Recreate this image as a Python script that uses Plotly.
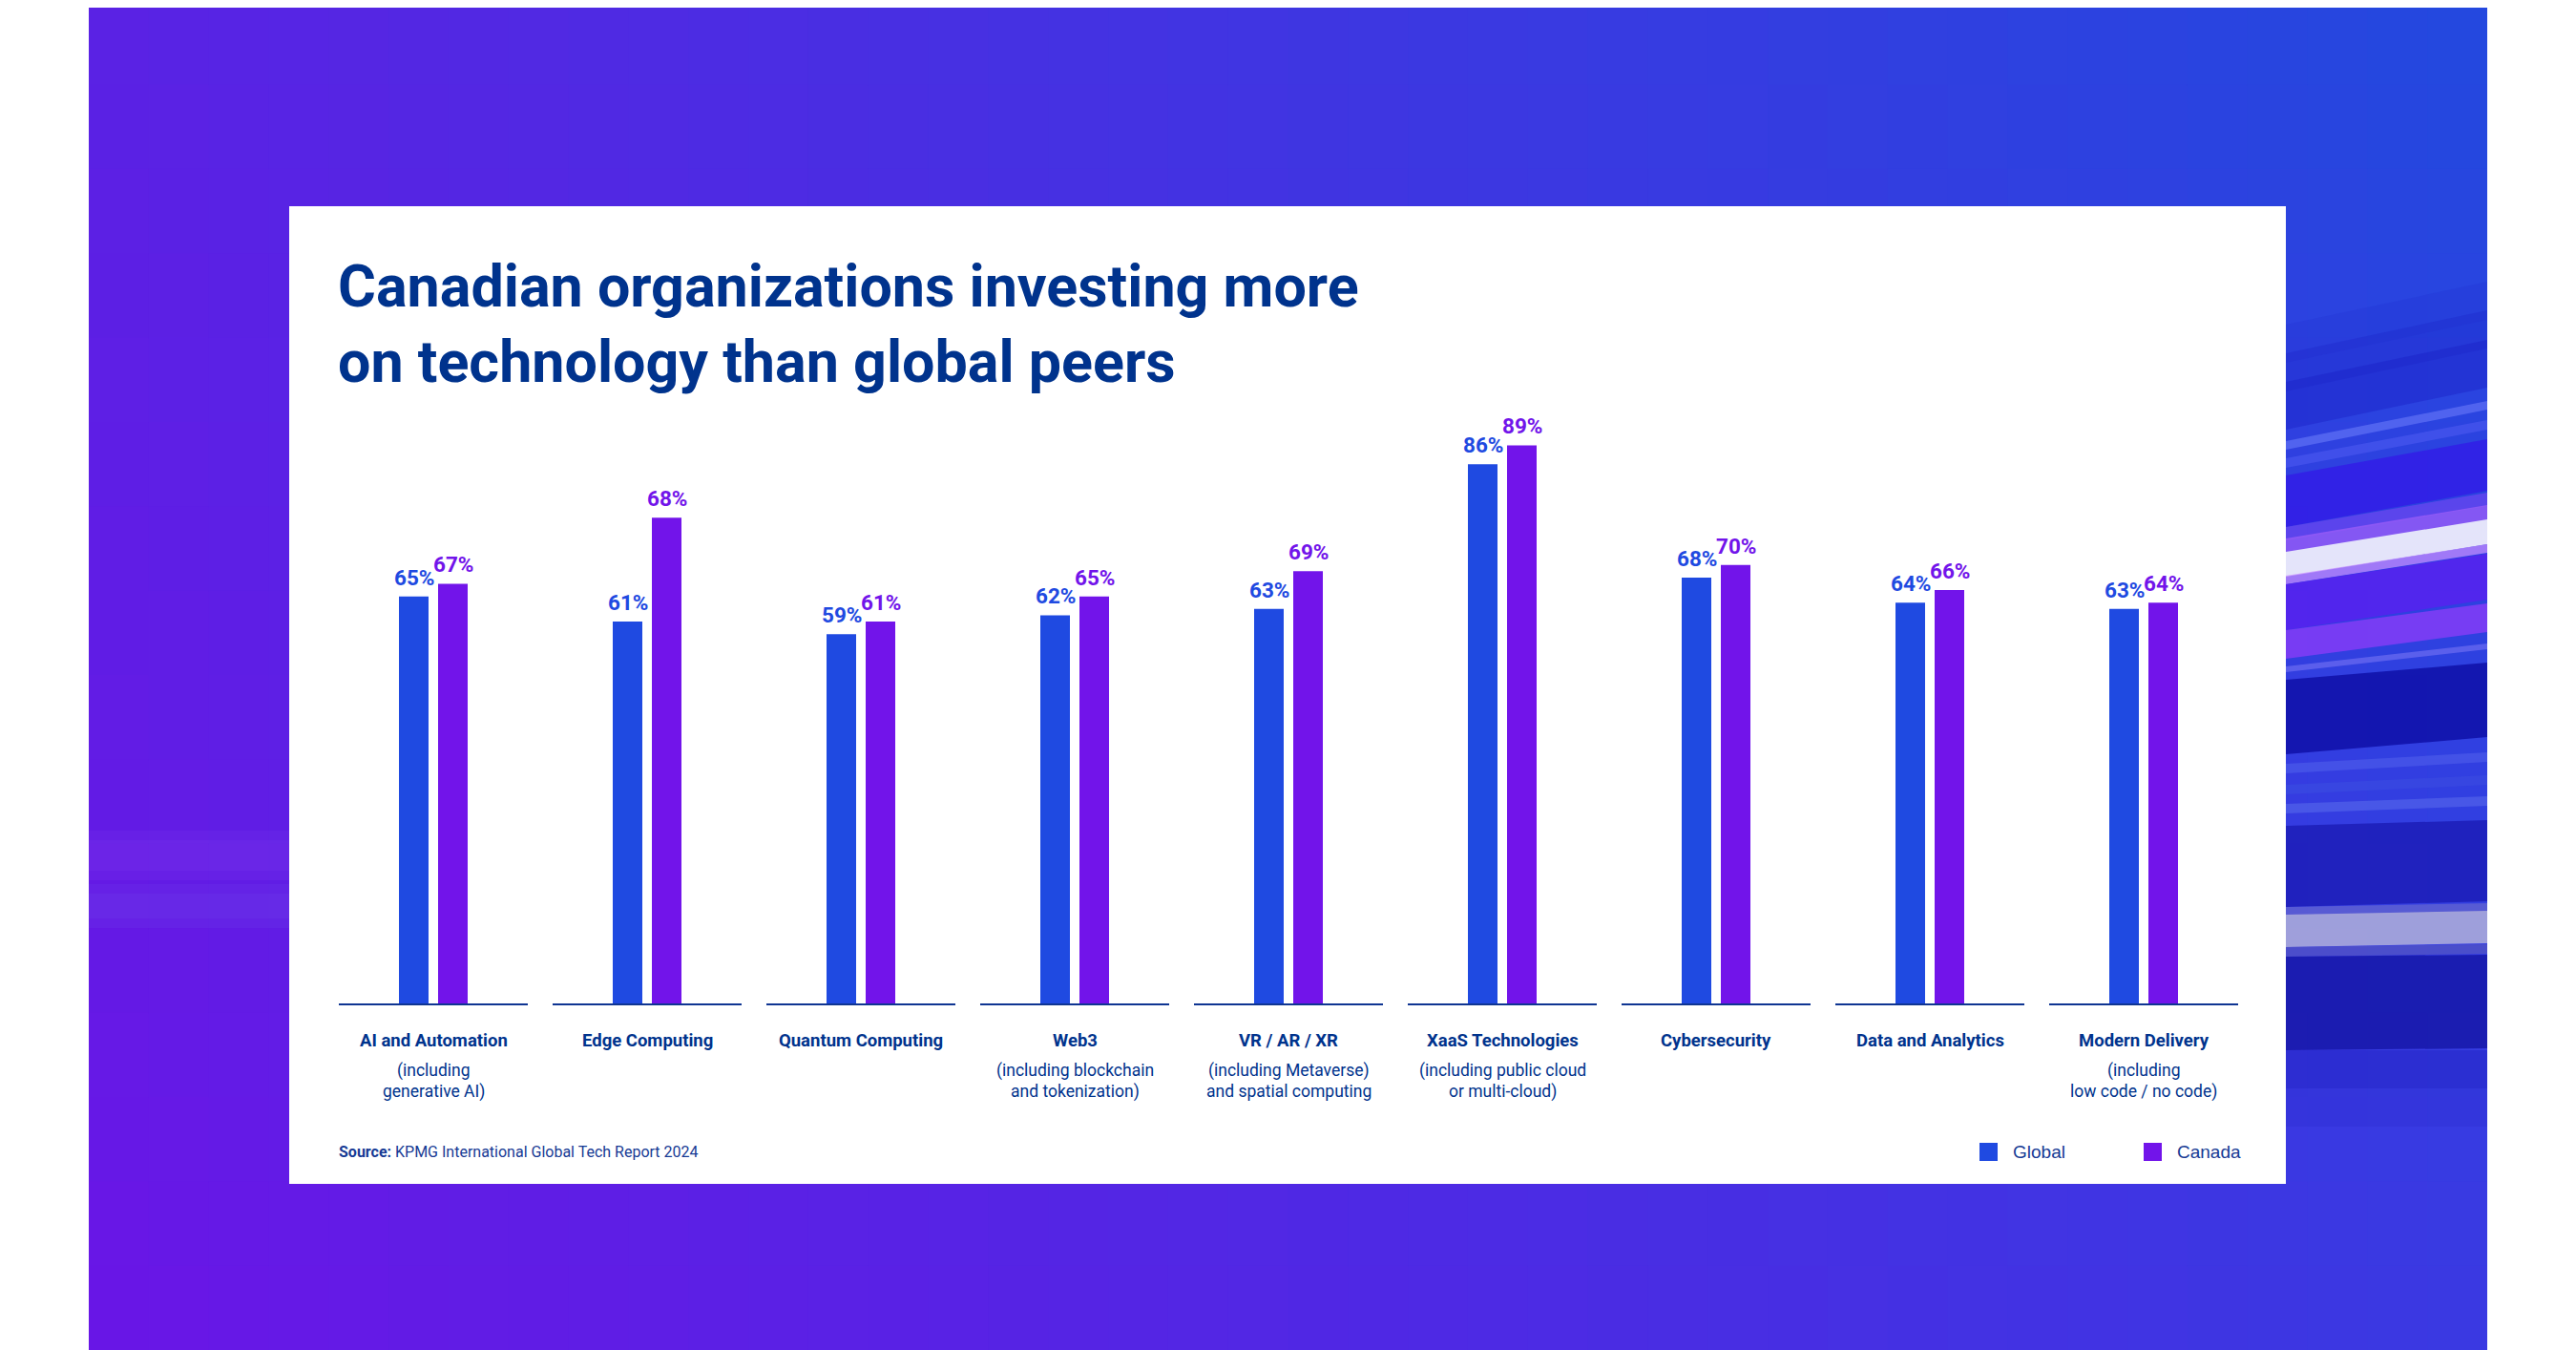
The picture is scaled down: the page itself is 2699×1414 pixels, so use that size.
import plotly.graph_objects as go

# ---------------- data ----------------
categories = ["AI and Automation", "Edge Computing", "Quantum Computing", "Web3",
              "VR / AR / XR", "XaaS Technologies", "Cybersecurity",
              "Data and Analytics", "Modern Delivery"]
sublabels = [["(including", "generative AI)"], [], [],
             ["(including blockchain", "and tokenization)"],
             ["(including Metaverse)", "and spatial computing"],
             ["(including public cloud", "or multi-cloud)"], [], [],
             ["(including", "low code / no code)"]]
global_vals = [65, 61, 59, 62, 63, 86, 68, 64, 63]
canada_vals = [67, 68, 61, 65, 69, 89, 70, 66, 64]
# bar heights as drawn in the source graphic (Edge Computing / Canada bar is drawn taller than its label)
canada_drawn = [67, 77.5, 61, 65, 69, 89, 70, 66, 64]
series_names = ["Global", "Canada"]

# page is 2699x1414; the html body adds an 8px margin, so the figure is placed at (8, 8)
PAGE_W, PAGE_H = 2699, 1414
OFF = 8
W, H = PAGE_W - OFF, PAGE_H - OFF
C_GLOBAL = "#1f4ae1"
C_CANADA = "#7214ea"
NAVY = "#00338d"
TXT = "#163a94"

COND = "Roboto, Lato, 'Liberation Sans', sans-serif"
SANS = "'Liberation Sans', Arial, sans-serif"


def px(x):
    return (x - OFF) / W


def py(y):
    return 1 - (y - OFF) / H


def hexmix(c1, c2, t):
    a = [int(c1[i:i + 2], 16) for i in (1, 3, 5)]
    b = [int(c2[i:i + 2], 16) for i in (1, 3, 5)]
    return "#" + "".join(f"{round(a[k] + (b[k] - a[k]) * t):02x}" for k in range(3))


shapes = []

# ---------------- background gradient panel ----------------
X0, X1, Y0, Y1 = 93, 2606, 0, 1414
TL, TR, BL, BR = "#5a22e4", "#2249df", "#6a16e6", "#3a38e2"
NX, NY = 40, 16
for i in range(NX):
    for j in range(NY):
        tx = (i + 0.5) / NX
        ty = (j + 0.5) / NY
        top = hexmix(TL, TR, tx)
        bot = hexmix(BL, BR, tx)
        col = hexmix(top, bot, ty)
        xa = X0 + (X1 - X0) * i / NX
        xb = X0 + (X1 - X0) * (i + 1) / NX + 1
        ya = Y0 + (Y1 - Y0) * j / NY - (OFF if j == 0 else 0)
        yb = Y0 + (Y1 - Y0) * (j + 1) / NY + 1
        shapes.append(dict(type="rect", xref="paper", yref="paper",
                           x0=px(xa), x1=px(min(xb, X1)), y0=py(ya), y1=py(min(yb, Y1 + OFF)),
                           fillcolor=col, line=dict(width=0), layer="below"))

# light streaks on the right side (upper ones slanted upwards to the right)
SX0, SX1 = 2395, 2606
streaks = [
    (340, 380, "#1b22c8", 0.15, 45),
    (370, 410, "#1b22c8", 0.3, 45),
    (400, 450, "#1b22c8", 0.45, 44),
    (462, 471, "#5a6cf2", 0.8, 42),
    (480, 490, "#4a58f0", 0.65, 40),
    (498, 552, "#3318e8", 0.75, 38),
    (552, 566, "#7a48f4", 0.6, 36),
    (564, 580, "#9a5cf8", 0.8, 35),
    (578, 604, "#e4e4fa", 1.0, 34),
    (603, 612, "#c78cff", 0.75, 33),
    (612, 660, "#5a1ff0", 0.8, 32),
    (660, 690, "#8a3cf8", 0.8, 28),
    (698, 704, "#6a6af0", 0.75, 24),
    (712, 790, "#0c0ca4", 0.8, 18),
    (800, 810, "#4a58e8", 0.75, 12),
    (822, 832, "#3a4ae0", 0.75, 10),
    (842, 852, "#5060e8", 0.75, 8),
    (865, 950, "#1a1ab2", 0.75, 6),
    (950, 960, "#7070cc", 0.6, 4),
    (958, 992, "#a4a4da", 0.95, 4),
    (992, 1002, "#5a5abc", 0.6, 3),
    (1002, 1100, "#10109c", 0.7, 2),
    (1100, 1140, "#2020c0", 0.45, 0),
    (1140, 1180, "#2626cc", 0.25, 0),
]
for ya, yb, col, op, rise in streaks:
    path = (f"M {px(SX0)},{py(ya)} L {px(SX1)},{py(ya - rise)} "
            f"L {px(SX1)},{py(yb - rise)} L {px(SX0)},{py(yb)} Z")
    shapes.append(dict(type="path", xref="paper", yref="paper", path=path,
                       fillcolor=col, opacity=op, line=dict(width=0), layer="below"))

# faint streaks on the left side
for ya, yb, col, op in [(870, 922, "#8a4cf0", 0.12), (880, 912, "#8a4cf0", 0.12),
                        (926, 972, "#7a58f0", 0.12), (936, 962, "#7a58f0", 0.12)]:
    shapes.append(dict(type="rect", xref="paper", yref="paper",
                       x0=px(93), x1=px(303), y0=py(ya), y1=py(yb),
                       fillcolor=col, opacity=op, line=dict(width=0), layer="below"))

# white card
shapes.append(dict(type="rect", xref="paper", yref="paper",
                   x0=px(303), x1=px(2395), y0=py(216), y1=py(1240),
                   fillcolor="white", line=dict(width=0), layer="below"))

# ---------------- bars ----------------
PITCH = 224.0
BW = 31 / PITCH
OFF_G = -36 / PITCH
OFF_C = 5 / PITCH
xs = list(range(len(categories)))

fig = go.Figure()
fig.add_trace(go.Bar(x=xs, y=global_vals, name=series_names[0], width=BW, offset=OFF_G,
                     marker=dict(color=C_GLOBAL, line=dict(width=0)), hoverinfo="skip"))
fig.add_trace(go.Bar(x=xs, y=canada_drawn, name=series_names[1], width=BW, offset=OFF_C,
                     marker=dict(color=C_CANADA, line=dict(width=0)), hoverinfo="skip"))

# baseline segment under each category
for i in xs:
    shapes.append(dict(type="line", xref="x", yref="y", x0=i - 99 / PITCH, x1=i + 99 / PITCH,
                       y0=0, y1=0, line=dict(color="#0f3592", width=4), layer="above"))

annotations = []
# value labels
for i in xs:
    annotations.append(dict(x=i + OFF_G + BW / 2, y=global_vals[i], xref="x", yref="y",
                            text=f"<b>{global_vals[i]}%</b>", showarrow=False, yanchor="bottom",
                            yshift=5, font=dict(family=COND, size=22.5, color=C_GLOBAL)))
    annotations.append(dict(x=i + OFF_C + BW / 2, y=canada_drawn[i], xref="x", yref="y",
                            text=f"<b>{canada_vals[i]}%</b>", showarrow=False, yanchor="bottom",
                            yshift=5, font=dict(family=COND, size=22.5, color=C_CANADA)))

# category labels
for i in xs:
    annotations.append(dict(x=i, y=py(1090), xref="x", yref="paper", text=f"<b>{categories[i]}</b>",
                            showarrow=False, yanchor="middle",
                            font=dict(family=COND, size=18.5, color=NAVY)))
    for k, line in enumerate(sublabels[i]):
        annotations.append(dict(x=i, y=py(1121 + 22 * k), xref="x", yref="paper", text=line,
                                showarrow=False, yanchor="middle",
                                font=dict(family=COND, size=17.5, color=NAVY)))

# title
annotations.append(dict(x=px(352), y=py(300), xref="paper", yref="paper",
                        text="<b>Canadian organizations investing more</b>", showarrow=False,
                        xanchor="left", yanchor="middle",
                        font=dict(family=COND, size=61, color=NAVY)))
annotations.append(dict(x=px(352), y=py(379), xref="paper", yref="paper",
                        text="<b>on technology than global peers</b>", showarrow=False,
                        xanchor="left", yanchor="middle",
                        font=dict(family=COND, size=61, color=NAVY)))

# source
annotations.append(dict(x=px(353), y=py(1206), xref="paper", yref="paper",
                        text="<b>Source:</b> KPMG International Global Tech Report 2024",
                        showarrow=False, xanchor="left", yanchor="middle",
                        font=dict(family=COND, size=16, color=TXT)))

# legend (manual)
for x0, col, name in [(2074, C_GLOBAL, series_names[0]), (2246, C_CANADA, series_names[1])]:
    shapes.append(dict(type="rect", xref="paper", yref="paper",
                       x0=px(x0), x1=px(x0 + 19), y0=py(1197), y1=py(1216),
                       fillcolor=col, line=dict(width=0), layer="above"))
    annotations.append(dict(x=px(x0 + 33), y=py(1206), xref="paper", yref="paper", text=name,
                            showarrow=False, xanchor="left", yanchor="middle",
                            font=dict(family=SANS, size=19, color=TXT)))

fig.update_layout(
    width=W, height=H,
    margin=dict(l=0, r=0, t=0, b=0),
    paper_bgcolor="white", plot_bgcolor="rgba(0,0,0,0)",
    barmode="overlay", showlegend=False,
    xaxis=dict(domain=[px(342), px(2358)], range=[-0.5, 8.5], visible=False, fixedrange=True),
    yaxis=dict(domain=[py(1053), py(1053 - 659)], range=[0, 100], visible=False, fixedrange=True),
    shapes=shapes, annotations=annotations,
    hovermode=False,
)

fig.write_html("out.html", config=dict(displayModeBar=False))
